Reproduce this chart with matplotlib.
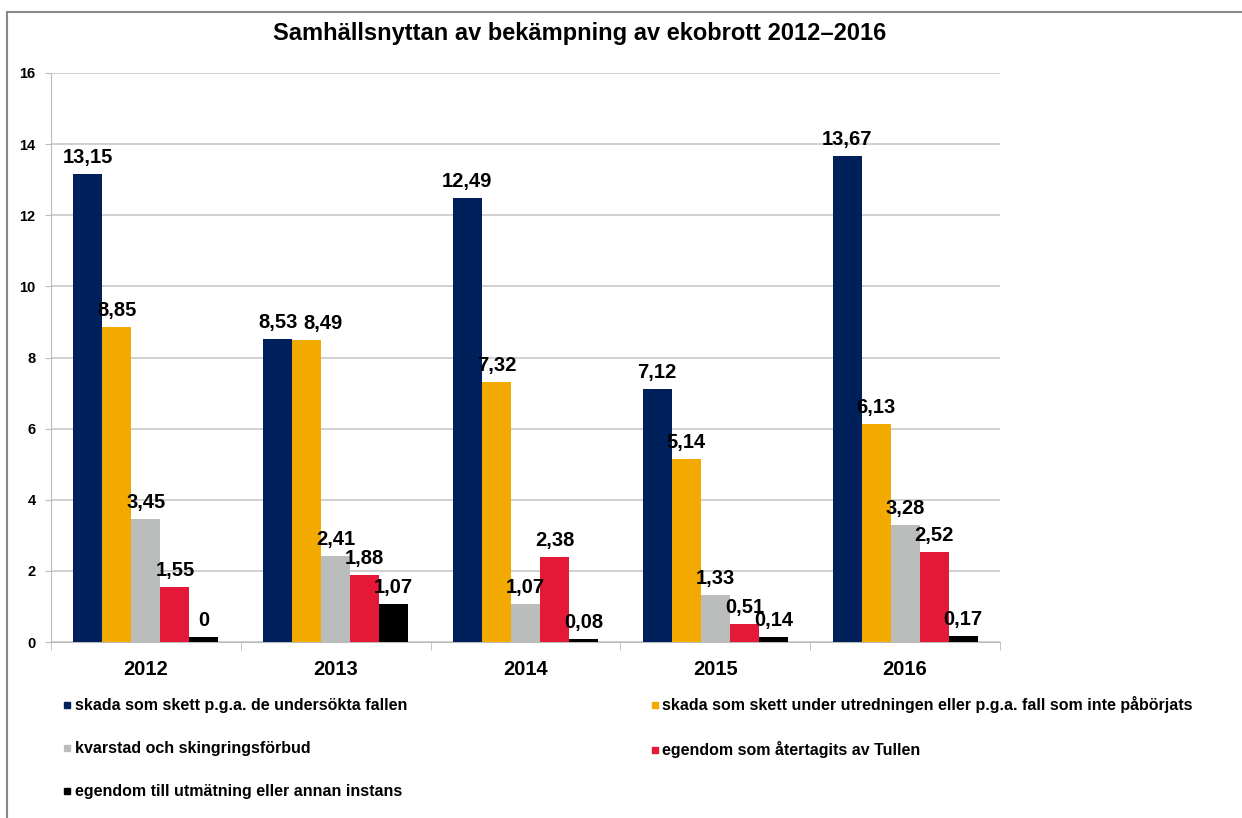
import matplotlib.pyplot as plt
import numpy as np
from matplotlib.patches import Rectangle
from matplotlib.lines import Line2D

plt.rcParams['font.family'] = ['Liberation Sans', 'DejaVu Sans']

years = ['2012', '2013', '2014', '2015', '2016']
series_names = [
    'skada som skett p.g.a. de undersökta fallen',
    'skada som skett under utredningen eller p.g.a. fall som inte påbörjats',
    'kvarstad och skingringsförbud',
    'egendom som återtagits av Tullen',
    'egendom till utmätning eller annan instans',
]
skada_fall = [13.15, 8.53, 12.49, 7.12, 13.67]
skada_utredning = [8.85, 8.49, 7.32, 5.14, 6.13]
kvarstad = [3.45, 2.41, 1.07, 1.33, 3.28]
tullen = [1.55, 1.88, 2.38, 0.51, 2.52]
utmatning = [0.13, 1.07, 0.08, 0.14, 0.17]
# the chart prints "0" above the small 2012 bar
utmatning_text = ['0', '1,07', '0,08', '0,14', '0,17']

colors = ['#00205B', '#F2A900', '#BBBDBD', '#E31937', '#000000']
yticks = [0, 2, 4, 6, 8, 10, 12, 14, 16]

fig = plt.figure(figsize=(12.42, 8.18), dpi=100)
ax = fig.add_axes([51 / 1242, 1 - 642 / 818, 949 / 1242, 569 / 818])

all_vals = [skada_fall, skada_utredning, kvarstad, tullen, utmatning]
x = np.arange(len(years))
w = 0.153
for k, vals in enumerate(all_vals):
    pos = x + (k - 2) * w
    ax.bar(pos, vals, width=w, color=colors[k], zorder=3, label=series_names[k])
    for j, v in enumerate(vals):
        txt = utmatning_text[j] if k == 4 else f'{v:.2f}'.replace('.', ',')
        dx = 12 if (k == 1 and j == 1) else 0  # label nudged right in the original
        ax.annotate(txt, (pos[j], v), xytext=(dx, 5), textcoords='offset points',
                    ha='center', va='bottom', fontsize=14.5, fontweight='bold', zorder=4)

ax.set_xlim(-0.5, 4.5)
ax.set_ylim(0, 16)
ax.set_yticks(yticks)
ax.set_yticklabels([str(t) for t in yticks], fontsize=10.5, fontweight='bold')
ax.set_xticks(x)
ax.set_xticklabels(years, fontsize=14.5, fontweight='bold')
ax.set_xticks(np.arange(-0.5, 5, 1), minor=True)
ax.tick_params(axis='x', which='major', length=0, pad=13)
ax.tick_params(axis='x', which='minor', length=6, color='#BBBBBB', direction='out')
ax.tick_params(axis='y', length=4, color='#BBBBBB', pad=7)
ax.grid(axis='y', color='#C8C8C8', linewidth=1.2, zorder=0)
for s in ['top', 'right']:
    ax.spines[s].set_visible(False)
for s in ['left', 'bottom']:
    ax.spines[s].set_color('#BBBBBB')

ax.set_title('Samhällsnyttan av bekämpning av ekobrott 2012\u20132016',
             fontsize=17, fontweight='bold', x=(580 - 51) / 949, y=1.0, pad=24)

handles = [Line2D([], [], marker='s', linestyle='none', markersize=5,
                  markerfacecolor=c, markeredgecolor=c) for c in colors]
order = [0, 2, 4, 1, 3]
fig.legend([handles[i] for i in order], [series_names[i] for i in order],
           ncol=2, loc='upper left', bbox_to_anchor=(49 / 1242, 1 - 682 / 818),
           frameon=False, prop={'size': 11.5, 'weight': 'bold'},
           handlelength=0.5, handletextpad=0.2, labelspacing=1.75, columnspacing=15.3)

fig.patches.append(Rectangle((7 / 1242, -0.05), 1.2, 1 - 12 / 818 + 0.05,
                             transform=fig.transFigure, fill=False,
                             edgecolor='#888888', linewidth=1.5))

fig.savefig('out.png', dpi=100)
